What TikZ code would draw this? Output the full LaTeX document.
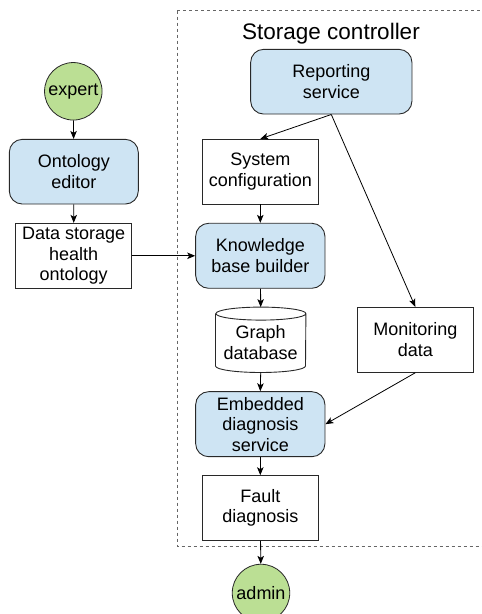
\documentclass[tikz,border=0pt]{standalone}
\usepackage{fontspec}
\setmainfont{Liberation Sans}
\usetikzlibrary{arrows.meta,calc}
\definecolor{svcblue}{RGB}{206,228,243}
\definecolor{actorgreen}{RGB}{187,223,148}
\definecolor{edgegray}{RGB}{40,40,40}
\begin{document}
\begin{tikzpicture}[x=1pt,y=1pt,
  lbl/.style={font=\fontsize{18}{20.5}\selectfont, align=center, inner sep=0pt},
  boxed/.style={lbl, draw=edgegray, line width=0.9pt, fill=white,
    minimum width=116pt, minimum height=65pt},
  service/.style={boxed, fill=svcblue, rounded corners=13pt, minimum width=129.3pt},
  actor/.style={lbl, circle, draw=edgegray, line width=0.8pt, fill=actorgreen,
    minimum size=57.5pt},
  flow/.style={-{Stealth[length=8pt,width=6.5pt,inset=2pt]}, line width=0.8pt},
  link/.style={line width=0.8pt}
]
\useasboundingbox (0,0) rectangle (482,614);

% storage controller boundary
\draw[dash pattern=on 3pt off 3pt, black!60, line width=0.9pt]
  (177,603.3) rectangle (492,68);
\node[font=\fontsize{22.5}{26}\selectfont, anchor=base, inner sep=0pt]
  (title) at (331,574) {Storage controller};

% actors
\node[actor] (expert) at (73.3,522.7) {expert};
\node[actor] (admin) at (261,21) {admin};

% left column
\node[service, minimum width=129pt, minimum height=64.7pt] (onto) at (73.8,442.3) {Ontology\\editor};
\node[boxed] (dsho) at (73.7,358.2) {Data storage\\health\\ontology};

% controller components
\node[service, minimum width=161.3pt, minimum height=64.7pt] (rep) at (331.3,532.3) {Reporting\\service};
\node[boxed, minimum height=64.7pt] (sys) at (260.3,442.3) {System\\configuration};
\node[service] (kb) at (260.3,358.2) {Knowledge\\base builder};
\node[boxed] (mon) at (415.3,274.2) {Monitoring\\data};
\node[service] (emb) at (260.3,189.8) {Embedded\\diagnosis\\service};
\node[boxed, minimum height=64.7pt] (fault) at (260.3,106) {Fault\\diagnosis};

% graph database drawn as a cylinder around a bare node
\node[minimum width=90pt, minimum height=65pt, inner sep=0pt] (gdb) at (260.7,274.2) {};
\draw[draw=edgegray, line width=0.9pt]
  ([yshift=-6.5pt]gdb.north west) -- ([yshift=6.5pt]gdb.south west)
  arc[start angle=180, end angle=360, x radius=45pt, y radius=6.5pt]
  -- ([yshift=-6.5pt]gdb.north east)
  arc[start angle=0, end angle=360, x radius=45pt, y radius=6.5pt];
\node[lbl] (gdbtext) at ([yshift=-3pt]gdb.center) {Graph\\database};

% connectors
\draw[flow] (expert) -- (onto);
\draw[flow] (onto) -- (dsho);
\draw[flow] (dsho) -- (kb);
\draw[flow] (rep.south) -- (sys.north);
\draw[flow] (rep.south) -- (mon.north);
\draw[flow] (sys) -- (kb);
\draw[flow] (kb) -- (gdb.north);
\draw[flow] (gdb.south) -- (emb.north);
\draw[flow] (mon.south) -- (emb.east);
\draw[flow] (emb) -- (fault);
\draw[flow] (fault) -- (admin);
\end{tikzpicture}
\end{document}
